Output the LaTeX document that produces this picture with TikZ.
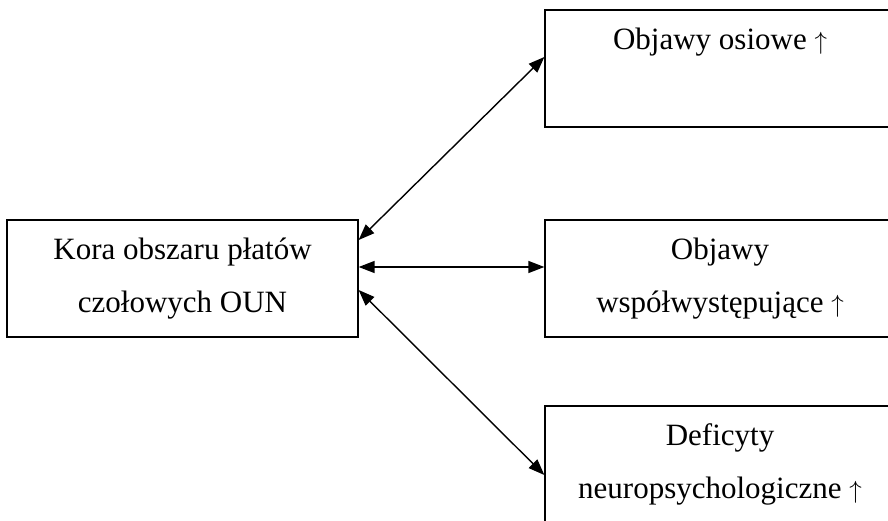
\documentclass[tikz,border=0pt]{standalone}
\usepackage{fontspec}
\setmainfont{Liberation Serif}
\usepackage{tikz}
\usetikzlibrary{arrows.meta}

\begin{document}
\begin{tikzpicture}[x=1pt,y=1pt,font={\fontsize{31}{53}\selectfont},
   box/.style={draw,line width=1.3pt,minimum width=351pt,minimum height=117pt,
               inner sep=0pt,align=center},
   link/.style={{Triangle[length=16pt,width=12pt]}-{Triangle[length=16pt,width=12pt]},
                line width=1.4pt}]
  \useasboundingbox (0,0) rectangle (888,520);
  \clip (0,0) rectangle (888,520);
  % cortex box and the three symptom boxes
  \node[box] (kora) at (182.5,241.5) {Kora obszaru płatów\\czołowych OUN};
  \node[box,minimum width=350pt] (osiowe) at (720,451.5) {Objawy osiowe $\uparrow$\\\vphantom{y}};
  \node[box,minimum width=350pt] (wspol) at (720,241.5) {Objawy\\współwystępujące $\uparrow$};
  \node[box,minimum width=350pt] (deficyty) at (720,55.5) {Deficyty\\neuropsychologiczne $\uparrow$};
  \draw[link] ([yshift=38.5pt]kora.east) -- ([yshift=11.5pt]osiowe.west);
  \draw[link] ([yshift=11.5pt]kora.east) -- ([yshift=11.5pt]wspol.west);
  \draw[link] ([yshift=-11.5pt]kora.east) -- ([yshift=-10.5pt]deficyty.west);
\end{tikzpicture}
\end{document}
